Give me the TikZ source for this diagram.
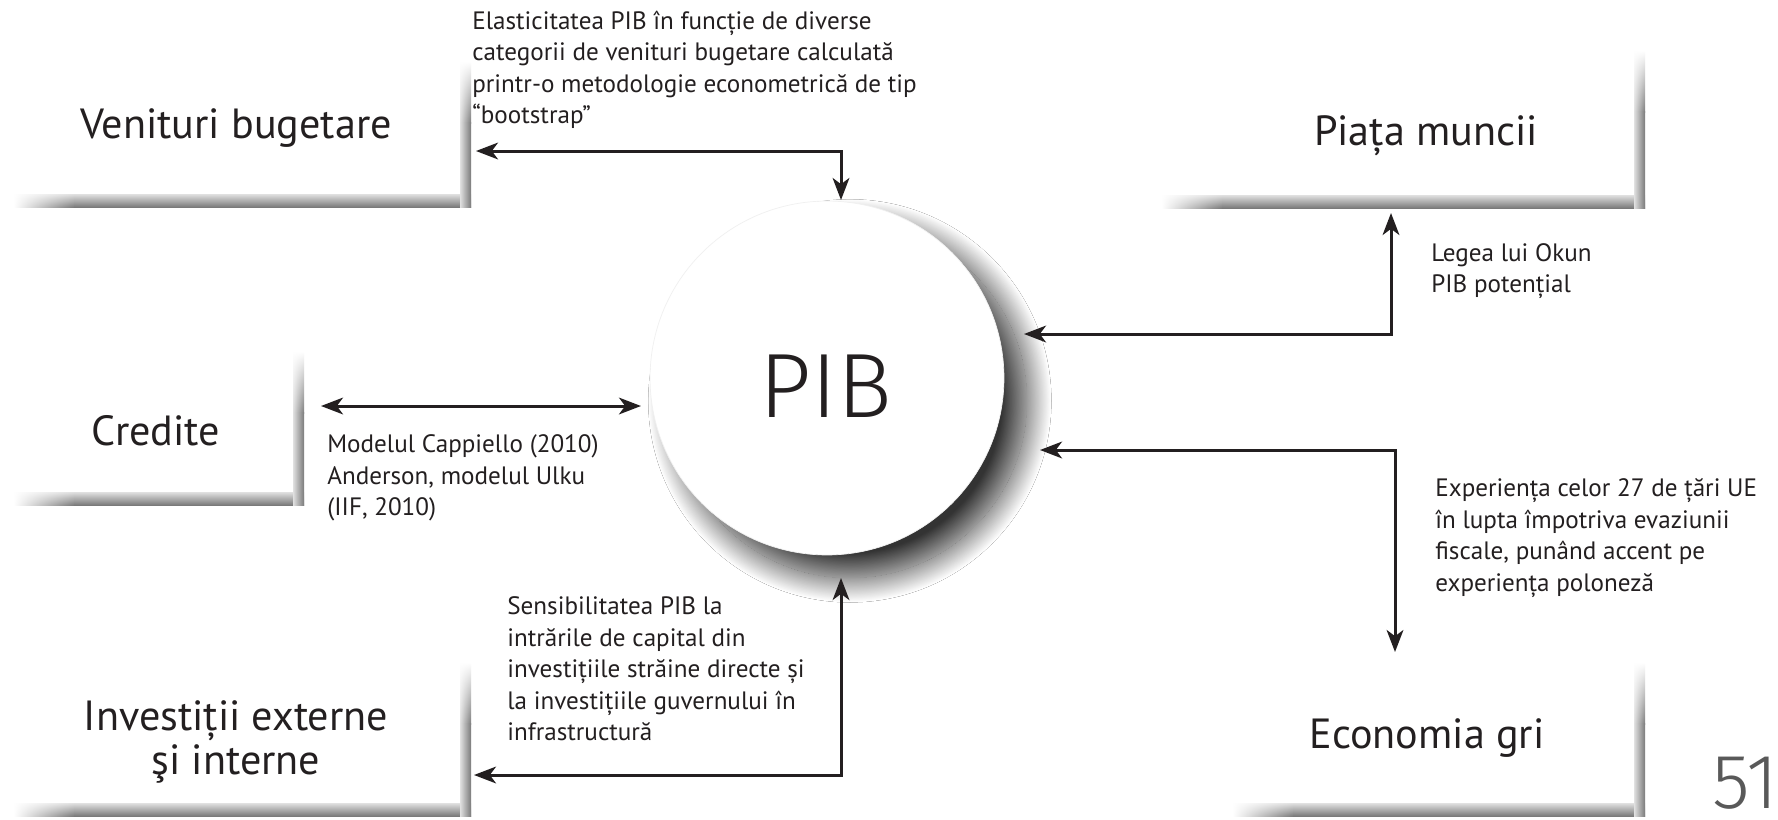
\documentclass[tikz,border=0pt]{standalone}
\usepackage{fontspec}
\setmainfont{PT Sans}
\newfontfamily\pibfont{Fira Sans Light}
\usetikzlibrary{arrows.meta,shadows.blur,fadings}
\definecolor{tekst}{HTML}{231F20}
\tikzfading[name=fadevest, left color=transparent!100, right color=transparent!0]
\tikzfading[name=fadetopp, top color=transparent!100, bottom color=transparent!0]

\begin{document}
\begin{tikzpicture}[x=0.02cm, y=-0.02cm,
    boks/.style={text=tekst, font=\fontsize{24}{25.5}\selectfont, align=center},
    notat/.style={text=tekst, font=\fontsize{14.3}{17.9}\selectfont, align=left, anchor=west, inner sep=0pt},
    pil/.style={draw=tekst, line width=1.7pt, {Stealth[length=12.5pt,width=9.5pt,inset=3.5pt]}-{Stealth[length=12.5pt,width=9.5pt,inset=3.5pt]}},
    kantH/.style={top color=black!12, bottom color=black!52},
    kantV/.style={left color=black!12, right color=black!52}]
    \useasboundingbox[fill=white] (0,0) rectangle (1778,819);

    % kantene rundt boksene (venstre, topp, hoyre, bunn)
    \foreach \xa/\ya/\xb/\yb in {14/62/471/207, 14/352/304/505, 14/663/471/816, 1162/51/1645/208, 1233/663/1645/816} {
        \shade[kantH] (\xa+60,\yb-13) rectangle (\xb,\yb);
        \shade[kantH, path fading=fadevest] (\xa,\yb-13) rectangle (\xa+61,\yb);
        \shade[kantV] (\xb-11,\ya+60) rectangle (\xb,\yb);
        \shade[kantV, path fading=fadetopp] (\xb-11,\ya) rectangle (\xb,\ya+61);
    }

    % sirkelen i midten
    \node[circle, fill=white, draw=black!6, line width=0.4pt, minimum size=7.08cm, inner sep=0pt,
        blur shadow={shadow xshift=13pt, shadow yshift=-13pt, shadow blur radius=14pt, shadow opacity=80, shadow blur steps=60}] (pib) at (827,378) {};
    \node[text=tekst, font=\pibfont\fontsize{52}{52}\selectfont] (pibtekst) at (826,386) {PIB};

    % boksene
    \node[boks] (venit) at (236,128) {Venituri bugetare};
    \node[boks] (credit) at (156,431) {Credite};
    \node[boks] (invest) at (236,742) {Investiții externe\\şi interne};
    \node[boks] (piata) at (1426,136) {Piața muncii};
    \node[boks] (econ) at (1427,738) {Economia gri};

    % endepunkter for pilene
    \coordinate (venitK) at (476,151);
    \coordinate (pibN) at (841,200);
    \coordinate (creditK) at (321,406);
    \coordinate (pibV) at (641,406);
    \coordinate (investK) at (474,775);
    \coordinate (pibS) at (841,578);
    \coordinate (pibO1) at (1024,334);
    \coordinate (piataK) at (1391,213);
    \coordinate (pibO2) at (1040,450);
    \coordinate (econK) at (1395,652);

    \draw[pil] (venitK) -| (pibN);
    \draw[pil] (creditK) -- (pibV);
    \draw[pil] (investK) -| (pibS);
    \draw[pil] (pibO1) -| (piataK);
    \draw[pil] (pibO2) -| (econK);

    % forklaringer
    \node[notat] (n1) at (472,70) {Elasticitatea PIB în funcție de diverse\\categorii de venituri bugetare calculată\\printr-o metodologie econometrică de tip\\“bootstrap”};
    \node[notat] (n2) at (327,478) {Modelul Cappiello (2010)\\Anderson, modelul Ulku\\(IIF, 2010)};
    \node[notat] (n3) at (507,669) {Sensibilitatea PIB la\\intrările de capital din\\investițiile străine directe și\\la investițiile guvernului în\\infrastructură};
    \node[notat] (n4) at (1431,271) {Legea lui Okun\\PIB potențial};
    \node[notat] (n5) at (1435,538) {Experiența celor 27 de țări UE\\în lupta împotriva evaziunii\\fiscale, punând accent pe\\experiența poloneză};

    \node[text=black!65, font=\pibfont\fontsize{44}{44}\selectfont, anchor=base west, inner sep=0pt] (side) at (1712,808) {51};
\end{tikzpicture}
\end{document}
